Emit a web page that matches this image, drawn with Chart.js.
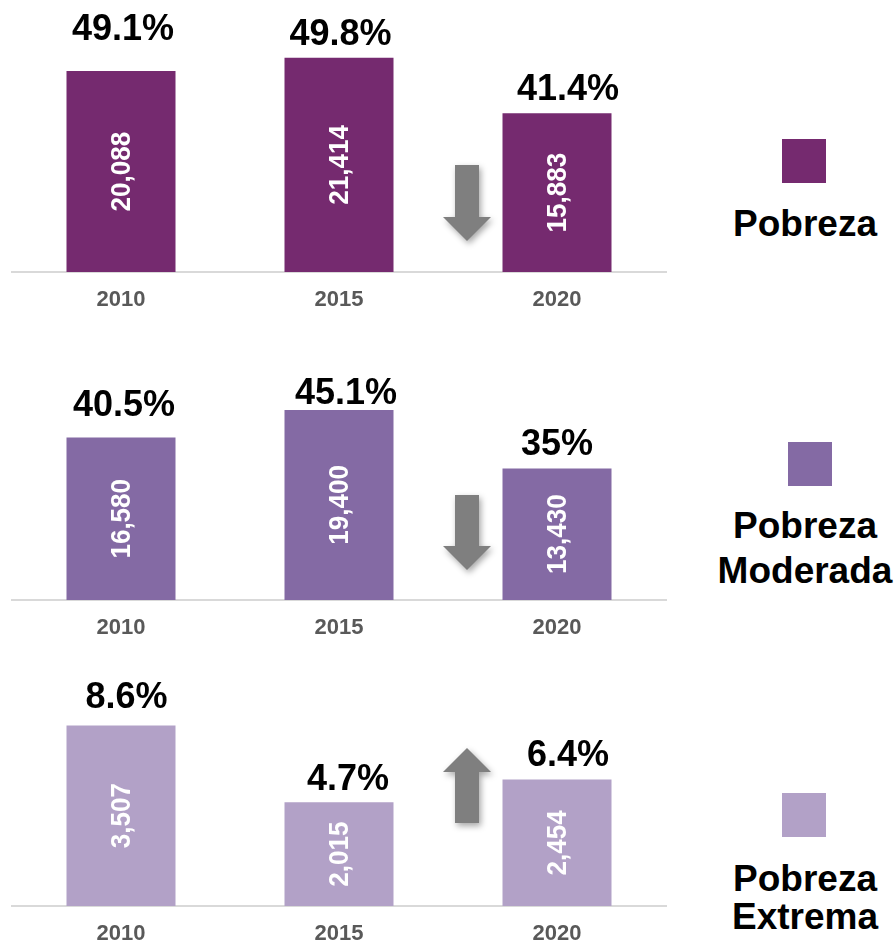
<!DOCTYPE html>
<html>
<head>
<meta charset="utf-8">
<script src="https://cdn.jsdelivr.net/npm/chart.js@4/dist/chart.umd.min.js"></script>
<style>
  html, body { margin: 0; padding: 0; background: #fff; }
  #page { position: relative; width: 896px; height: 948px; overflow: hidden; font-family: "Liberation Sans", Arial, sans-serif; }
  .panel { position: absolute; left: 0; width: 680px; }
  .swatch { position: absolute; width: 44px; height: 44px; }
  .legend-text { position: absolute; left: 700px; width: 210px; text-align: center; font-weight: bold; font-size: 37px; color: #000; }
</style>
</head>
<body>
<div id="page">
  <div class="panel" style="top:0;height:314px"><canvas id="chart-pobreza"></canvas></div>
  <div class="panel" style="top:330px;height:312px"><canvas id="chart-moderada"></canvas></div>
  <div class="panel" style="top:668px;height:280px"><canvas id="chart-extrema"></canvas></div>

  <div class="swatch" style="left:782px;top:139px;background:#752a6f"></div>
  <div class="legend-text" style="top:202px;line-height:44px">Pobreza</div>

  <div class="swatch" style="left:788px;top:442px;background:#846aa4"></div>
  <div class="legend-text" style="top:503px;line-height:45px">Pobreza<br>Moderada</div>

  <div class="swatch" style="left:782px;top:793px;background:#b2a1c7"></div>
  <div class="legend-text" style="top:860px;line-height:38px">Pobreza<br>Extrema</div>
</div>

<script>
const years = ['2010', '2015', '2020'];

const pobrezaPersonas = [20088, 21414, 15883];
const pobrezaPct = [49.1, 49.8, 41.4];

const moderadaPersonas = [16580, 19400, 13430];
const moderadaPct = [40.5, 45.1, 35];

const extremaPersonas = [3507, 2015, 2454];
const extremaPct = [8.6, 4.7, 6.4];

const FONT = '"Liberation Sans", Arial, sans-serif';

// labels, arrow and the white numbers inside the bars
const barLabels = {
    id: 'barLabels',
    afterDatasetsDraw(chart, args, opts) {
        const ctx = chart.ctx;
        const meta = chart.getDatasetMeta(0);
        const values = chart.data.datasets[0].data;
        const base = chart.chartArea.bottom;

        meta.data.forEach((bar, i) => {
            // number inside bar, rotated
            ctx.save();
            ctx.translate(bar.x, (bar.y + bar.base) / 2);
            ctx.rotate(-Math.PI / 2);
            ctx.scale(0.93, 1);
            ctx.fillStyle = '#ffffff';
            ctx.font = 'bold 28px ' + FONT;
            ctx.textAlign = 'center';
            ctx.textBaseline = 'middle';
            ctx.fillText(values[i].toLocaleString('en-US'), 0, 1);
            ctx.restore();

            // percentage above bar
            const nudge = opts.nudge[i];
            ctx.save();
            ctx.fillStyle = '#000000';
            ctx.font = 'bold 36px ' + FONT;
            ctx.textAlign = 'center';
            ctx.textBaseline = 'alphabetic';
            ctx.fillText(opts.pct[i] + '%', bar.x + nudge[0], bar.y - nudge[1] + 12.9);
            ctx.restore();
        });

        // trend arrow between 2015 and 2020
        const up = opts.pct[2] > opts.pct[1];
        const cx = chart.scales.x.getPixelForValue(2) - 90;
        const top = base - opts.arrow[0];
        const bottom = base - opts.arrow[1];
        const shaft = 12, head = 24, headLen = 24;
        ctx.save();
        ctx.shadowColor = 'rgba(0,0,0,0.35)';
        ctx.shadowBlur = 6;
        ctx.shadowOffsetX = 2;
        ctx.shadowOffsetY = 3;
        ctx.fillStyle = '#7f7f7f';
        ctx.beginPath();
        if (up) {
            ctx.moveTo(cx, top);
            ctx.lineTo(cx + head, top + headLen);
            ctx.lineTo(cx + shaft, top + headLen);
            ctx.lineTo(cx + shaft, bottom);
            ctx.lineTo(cx - shaft, bottom);
            ctx.lineTo(cx - shaft, top + headLen);
            ctx.lineTo(cx - head, top + headLen);
        } else {
            ctx.moveTo(cx - shaft, top);
            ctx.lineTo(cx + shaft, top);
            ctx.lineTo(cx + shaft, bottom - headLen);
            ctx.lineTo(cx + head, bottom - headLen);
            ctx.lineTo(cx, bottom);
            ctx.lineTo(cx - head, bottom - headLen);
            ctx.lineTo(cx - shaft, bottom - headLen);
        }
        ctx.closePath();
        ctx.fill();
        ctx.restore();
    }
};

function makeChart(id, values, pct, color, yMax, padTop, nudge, arrow) {
    return new Chart(document.getElementById(id), {
        type: 'bar',
        data: {
            labels: years,
            datasets: [{
                data: values,
                backgroundColor: color,
                borderWidth: 0,
                categoryPercentage: 1,
                barPercentage: 0.5
            }]
        },
        options: {
            responsive: true,
            maintainAspectRatio: false,
            animation: false,
            layout: { padding: { top: padTop, left: 12, right: 14, bottom: 0 } },
            scales: {
                x: {
                    grid: { display: false, drawTicks: false },
                    border: { display: true, color: '#d9d9d9', width: 2 },
                    ticks: {
                        color: '#595959',
                        font: { family: FONT, size: 22, weight: 'bold' },
                        padding: 15
                    },
                    afterFit(scale) { scale.height = 42; }
                },
                y: { display: false, min: 0, max: yMax }
            },
            plugins: {
                legend: { display: false },
                tooltip: { enabled: false },
                barLabels: { pct: pct, nudge: nudge, arrow: arrow }
            }
        },
        plugins: [barLabels]
    });
}

makeChart('chart-pobreza', pobrezaPersonas, pobrezaPct, '#752a6f', 25000, 22,
    [[2, 44], [1.5, 25.5], [11, 25.7]], [107, 31]);
makeChart('chart-moderada', moderadaPersonas, moderadaPct, '#846aa4', 25000, 25,
    [[3, 34], [7, 18.5], [0, 26]], [105, 30]);
makeChart('chart-extrema', extremaPersonas, extremaPct, '#b2a1c7', 4000, 32,
    [[5.6, 30], [9, 25], [11, 26.5]], [158, 83]);
</script>
</body>
</html>
